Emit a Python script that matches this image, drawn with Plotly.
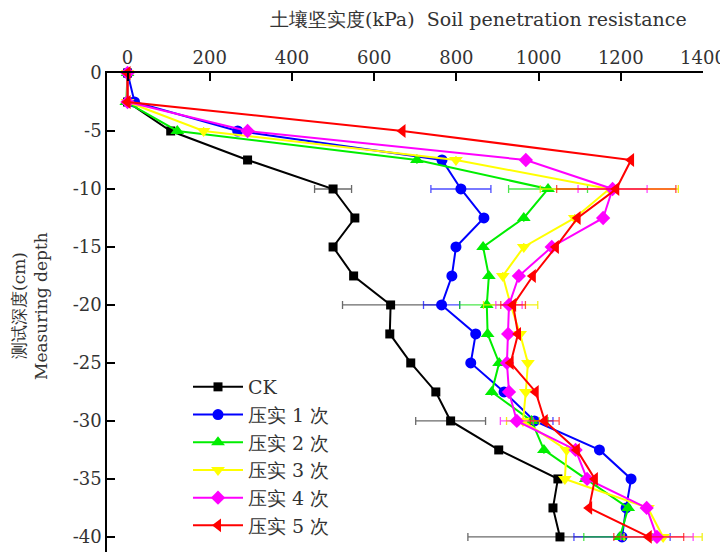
import plotly.graph_objects as go

depth = [0, -2.5, -5, -7.5, -10, -12.5, -15, -17.5, -20, -22.5, -25, -27.5, -30, -32.5, -35, -37.5, -40]

ck   = [0, 0, 105, 292, 500, 553, 500, 550, 640, 638, 689, 750, 786, 903, 1047, 1035, 1052]
c1   = [0, 17, 268, 765, 811, 867, 799, 789, 764, 847, 835, 916, 990, 1148, 1225, 1213, 1203]
c2   = [0, -3, 121, 704, 1023, 964, 865, 879, 874, 876, 904, 886, 983, 1013, 1115, 1218, 1198]
c3   = [0, 0, 185, 799, 1172, 1088, 964, 913, 932, 955, 974, 969, 962, 1068, 1064, 1266, 1303]
c4   = [0, 0, 292, 969, 1180, 1157, 1032, 952, 928, 926, 923, 928, 947, 1090, 1118, 1263, 1288]
c5   = [0, 0, 669, 1225, 1189, 1095, 1042, 986, 938, 950, 932, 993, 1015, 1093, 1137, 1123, 1268]

N = None
e_ck = [N, N, N, N, 45, N, N, N, 117, N, N, N, 85, N, N, N, 224]
e_c1 = [N, N, N, N, 73, N, N, N, 44, N, N, N, 45, N, N, N, 117]
e_c2 = [N, N, N, N, 96, N, N, N, 66, N, N, N, 40, N, N, N, 88]
e_c3 = [N, N, N, N, 168, N, N, N, 66, N, N, N, 40, N, N, N, 95]
e_c4 = [N, N, N, N, 84, N, N, N, 32, N, N, N, 40, N, N, N, 88]
e_c5 = [N, N, N, N, 145, N, N, N, 30, N, N, N, 35, N, N, N, 85]

names = ["CK", "压实 1 次", "压实 2 次", "压实 3 次", "压实 4 次", "压实 5 次"]
series = [ck, c1, c2, c3, c4, c5]
errors = [e_ck, e_c1, e_c2, e_c3, e_c4, e_c5]
colors = ["#000000", "#0000ff", "#00ee00", "#ffff00", "#ff00ff", "#ff0000"]
ecolors = ["rgba(90,90,90,0.9)", "rgba(0,0,255,0.7)", "rgba(0,220,0,0.7)",
           "rgba(240,240,0,0.9)", "rgba(255,0,255,0.7)", "rgba(255,0,0,0.7)"]
symbols = ["square", "circle", "triangle-up", "triangle-down", "diamond", "triangle-left"]
sizes = [9, 11, 12, 12, 11, 12]

xticks = [0, 200, 400, 600, 800, 1000, 1200, 1400]
yticks = [0, -5, -10, -15, -20, -25, -30, -35, -40]
yticktext = ["0", "-5", "-10", "-15", "-20", "-25", "-30", "-35", "-40"]

fig = go.Figure()
for nm, vals, err, col, ecol, sym, sz in zip(names, series, errors, colors, ecolors, symbols, sizes):
    fig.add_trace(go.Scatter(
        x=vals, y=depth, name=nm, mode="lines+markers",
        line=dict(color=col, width=2),
        marker=dict(symbol=sym, size=sz, color=col),
        error_x=dict(type="data", array=err, visible=True, color=ecol, thickness=1.3, width=4),
        cliponaxis=False,
    ))

serif = "DejaVu Serif"
tc = "#333333"
# page body has an 8px margin: figure is 720x545 placed at (8,8)
OX, OY = 8, 8
L, T = 107 - OX, 73 - OY
PW, PH = 596, 479

def px(xa):
    return (xa - OX - L) / PW

def py(ya):
    return 1 - (ya - OY - T) / PH

fig.update_layout(
    width=720, height=545,
    margin=dict(l=L, r=720 - L - PW, t=T, b=545 - T - PH),
    paper_bgcolor="white", plot_bgcolor="white",
    font=dict(family=serif, size=18, color=tc),
    showlegend=True,
    legend=dict(x=px(188), y=py(368), xanchor="left", yanchor="top",
                bgcolor="rgba(0,0,0,0)", font=dict(size=19, family=serif, color=tc),
                itemwidth=50, tracegroupgap=0),
    xaxis=dict(side="top", range=[-50, 1400], tickvals=xticks, ticks="inside", ticklen=8,
               tickwidth=1.5, showline=True, linewidth=1.5, linecolor="black", tickcolor="black",
               showgrid=False, zeroline=False, tickfont=dict(size=18, family=serif, color=tc)),
    yaxis=dict(range=[-41.3, 0], tickvals=yticks, ticktext=yticktext, ticks="inside", ticklen=8,
               tickwidth=1.5, showline=True, linewidth=1.5, linecolor="black", tickcolor="black",
               showgrid=False, zeroline=False, tickfont=dict(size=18, family=serif, color=tc)),
    annotations=[
        dict(text="土壤坚实度(kPa)  Soil penetration resistance", xref="paper", yref="paper",
             x=px(268), y=py(19), xanchor="left", yanchor="middle",
             showarrow=False, font=dict(size=19, family=serif, color=tc)),
        dict(text="测试深度(cm)", xref="paper", yref="paper",
             x=px(19), y=py(306), xanchor="center", yanchor="middle",
             textangle=-90, showarrow=False, font=dict(size=17, family=serif, color=tc)),
        dict(text="Measuring depth", xref="paper", yref="paper",
             x=px(41), y=py(306), xanchor="center", yanchor="middle",
             textangle=-90, showarrow=False, font=dict(size=17, family=serif, color=tc)),
    ],
)

fig.write_html("out.html")
